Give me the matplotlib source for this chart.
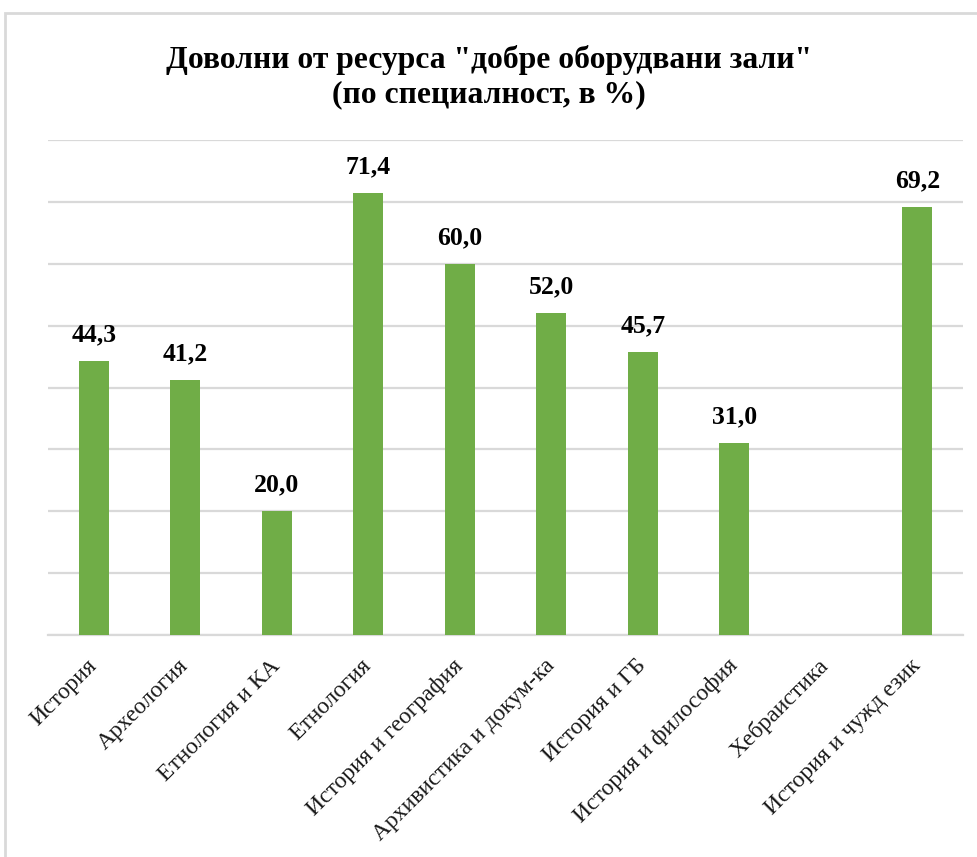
import matplotlib
matplotlib.use("Agg")
import matplotlib.pyplot as plt
from matplotlib.patches import Rectangle
import numpy as np

categories = ["История", "Археология", "Етнология и КА", "Етнология",
              "История и география", "Архивистика и докум-ка", "История и ГБ",
              "История и философия", "Хебраистика", "История и чужд език"]
values = [44.3, 41.2, 20.0, 71.4, 60.0, 52.0, 45.7, 31.0, np.nan, 69.2]
title = 'Доволни от ресурса "добре оборудвани зали"\n(по специалност, в %)'

W, H = 977, 857
fig = plt.figure(figsize=(W/100, H/100), dpi=100)
fig.patch.set_facecolor("white")
fig.add_artist(Rectangle((5/W, -0.1), 1.2, 1 - 13/H + 0.1, transform=fig.transFigure,
                         fill=False, edgecolor="#d9d9d9", linewidth=2))

ax = fig.add_axes([48/W, 1 - 635/H, (963 - 48)/W, (635 - 140)/H])
x = np.arange(len(categories))
ax.bar(x, values, width=0.33, color="#70ad47", zorder=3)
ax.set_xlim(-0.5, len(categories) - 0.5)
ax.set_ylim(0, 80)
ax.set_yticks(np.arange(0, 81, 10))
ax.yaxis.grid(True, color="#d9d9d9", linewidth=1.6, zorder=0)
ax.tick_params(axis="y", left=False, labelleft=False)
ax.tick_params(axis="x", length=0, pad=20)
for s in ["top", "right", "left"]:
    ax.spines[s].set_visible(False)
ax.spines["bottom"].set_color("#d9d9d9")
ax.spines["bottom"].set_linewidth(1.6)
ax.set_xticks(x)
ax.set_xticklabels(categories, rotation=45, ha="right", va="center",
                   rotation_mode="anchor",
                   fontsize=17, family="Liberation Serif", color="#1a1a1a")

for xi, v in zip(x, values):
    if not np.isnan(v):
        ax.annotate(f"{v:.1f}".replace(".", ","), (xi, v), xytext=(0, 14),
                    textcoords="offset points", ha="center", va="baseline",
                    fontsize=18.5, fontweight="bold", family="Liberation Serif")

fig.text(0.5, 1 - 77/H, title, ha="center", va="center", fontsize=22.8,
         fontweight="bold", family="Liberation Serif", linespacing=1.25)

fig.savefig("out.png", dpi=100)
